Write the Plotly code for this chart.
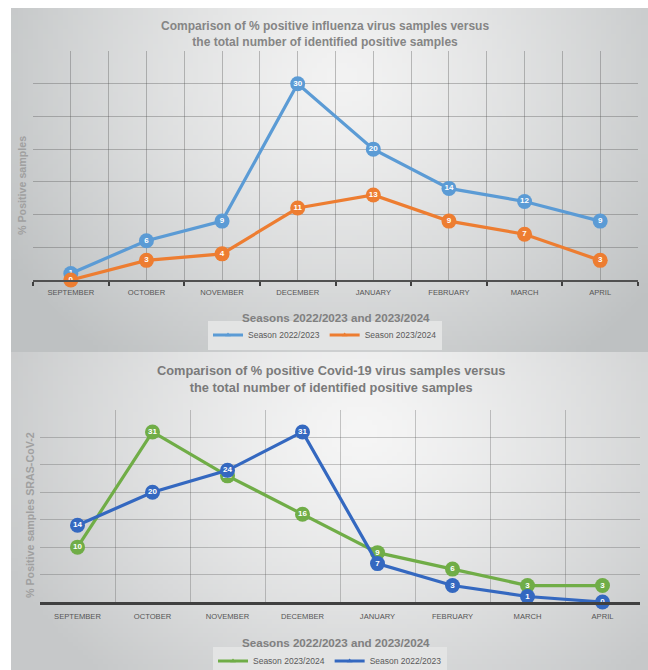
import zlib, struct, base64, math
import plotly.graph_objects as go

months = ["SEPTEMBER", "OCTOBER", "NOVEMBER", "DECEMBER", "JANUARY", "FEBRUARY", "MARCH", "APRIL"]
flu_2223 = [1, 6, 9, 30, 20, 14, 12, 9]
flu_2324 = [0, 3, 4, 11, 13, 9, 7, 3]
cov_2324 = [10, 31, 23, 16, 9, 6, 3, 3]
cov_2223 = [14, 20, 24, 31, 7, 3, 1, 0]

W, H = 648, 670
FONT = "Liberation Sans, Arial"

def px(x):
    return x / W

def py(y):
    return 1 - y / H

def make_png(w, h, fn):
    raw = bytearray()
    for j in range(h):
        raw.append(0)
        for i in range(w):
            raw += bytes(fn(i / (w - 1), j / (h - 1)))
    def chunk(t, d):
        c = struct.pack('>I', len(d)) + t + d
        return c + struct.pack('>I', zlib.crc32(t + d) & 0xffffffff)
    png = (b'\x89PNG\r\n\x1a\n'
           + chunk(b'IHDR', struct.pack('>IIBBBBB', w, h, 8, 2, 0, 0, 0))
           + chunk(b'IDAT', zlib.compress(bytes(raw)))
           + chunk(b'IEND', b''))
    return 'data:image/png;base64,' + base64.b64encode(png).decode()

def grad(cx, cy, rx, ry, light, dark):
    def f(u, v):
        d = math.sqrt(((u - cx) / rx) ** 2 + ((v - cy) / ry) ** 2)
        t = min(d, 1.0) ** 1.3
        return tuple(int(light[k] * (1 - t) + dark[k] * t) for k in range(3))
    return f

img_top = make_png(128, 72, grad(0.52, 0.2, 0.62, 1.05, (243, 243, 243), (190, 193, 194)))
img_bot = make_png(128, 72, grad(0.55, 0.25, 0.62, 1.05, (246, 246, 246), (198, 200, 201)))

xs = list(range(len(months)))
bounds = [i - 0.5 for i in range(len(months) + 1)]

fig = go.Figure()

def add_series(vals, color, xa, ya):
    fig.add_trace(go.Scatter(
        x=xs, y=vals, mode="lines+markers+text", xaxis=xa, yaxis=ya,
        line=dict(color=color, width=3.2),
        marker=dict(size=15, color=color),
        text=[f"<b>{v}</b>" for v in vals], textposition="middle center",
        textfont=dict(color="white", size=8, family=FONT),
        showlegend=False, hoverinfo="skip", cliponaxis=False))

def add_legend(name, color, legend):
    fig.add_trace(go.Scatter(
        x=[None], y=[None], mode="lines+markers", name=name, legend=legend,
        line=dict(color=color, width=3), marker=dict(size=5, symbol="triangle-up", color=color)))

add_series(flu_2223, "#5b9bd5", "x", "y")
add_series(flu_2324, "#ed7d31", "x", "y")
add_series(cov_2324, "#70ad47", "x2", "y2")
add_series(cov_2223, "#3468c0", "x2", "y2")

add_legend("Season 2022/2023", "#5b9bd5", "legend")
add_legend("Season 2023/2024", "#ed7d31", "legend")
add_legend("Season 2023/2024", "#70ad47", "legend2")
add_legend("Season 2022/2023", "#3468c0", "legend2")

tickfont = dict(family=FONT, size=7.6, color="#555555")

fig.update_layout(
    width=W, height=H, margin=dict(l=0, r=0, t=0, b=0, autoexpand=False),
    paper_bgcolor="white", plot_bgcolor="rgba(0,0,0,0)",
    xaxis=dict(domain=[px(33), px(638)], range=[-0.5, 7.5], tickvals=xs, ticktext=months,
               tickfont=tickfont, showgrid=True, gridcolor="rgba(80,80,80,0.35)", gridwidth=1,
               ticks="", showline=True, linecolor="#505050", linewidth=2, zeroline=False,
               ticklabelstandoff=4,
               minor=dict(tickvals=bounds, showgrid=True, gridcolor="rgba(80,80,80,0.35)",
                          ticks="outside", ticklen=4, tickcolor="#404040", tickwidth=1.5),
               anchor="y"),
    yaxis=dict(domain=[py(280), py(51)], range=[0, 35], dtick=5, showticklabels=False,
               showgrid=True, gridcolor="rgba(80,80,80,0.35)", zeroline=False, anchor="x"),
    xaxis2=dict(domain=[px(40), px(640)], range=[-0.5, 7.5], tickvals=xs, ticktext=months,
                tickfont=tickfont, showgrid=False, ticks="", showline=True, linecolor="#404040",
                linewidth=2.5, zeroline=False, ticklabelstandoff=5,
                minor=dict(tickvals=bounds, showgrid=True, gridcolor="rgba(80,80,80,0.3)"),
                anchor="y2"),
    yaxis2=dict(domain=[py(602), py(410)], range=[0, 35], dtick=5, showticklabels=False,
                showgrid=True, gridcolor="rgba(80,80,80,0.3)", zeroline=False, anchor="x2"),
    legend=dict(orientation="h", x=px(325), y=py(335), xanchor="center", yanchor="middle",
                bgcolor="#e3e4e4", font=dict(family=FONT, size=8.5, color="#595959"),
                itemwidth=30, tracegroupgap=0),
    legend2=dict(orientation="h", x=px(330), y=py(661), xanchor="center", yanchor="middle",
                 bgcolor="#e3e4e4", font=dict(family=FONT, size=8.5, color="#595959"),
                 itemwidth=30, tracegroupgap=0),
    images=[
        dict(source=img_top, xref="paper", yref="paper", x=px(11), y=py(8), sizex=px(648) - px(11),
             sizey=py(8) - py(352), sizing="stretch", layer="below", xanchor="left", yanchor="top"),
        dict(source=img_bot, xref="paper", yref="paper", x=px(11), y=py(352), sizex=px(648) - px(11),
             sizey=py(352) - py(670), sizing="stretch", layer="below", xanchor="left", yanchor="top"),
    ],
)

annots = [
    dict(text="<b>Comparison of % positive influenza virus samples versus<br>the total number of identified positive samples</b>",
         x=px(325), y=py(34), size=12, color="#858585"),
    dict(text="<b>Comparison of % positive Covid-19 virus samples versus<br>the total number of identified positive samples</b>",
         x=px(331), y=py(379), size=12.8, color="#7a7a7a"),
    dict(text="<b>Seasons 2022/2023 and 2023/2024</b>", x=px(336), y=py(317), size=11.6, color="#808080"),
    dict(text="<b>Seasons 2022/2023 and 2023/2024</b>", x=px(336), y=py(642), size=11.6, color="#808080"),
]
for a in annots:
    fig.add_annotation(text=a["text"], x=a["x"], y=a["y"], xref="paper", yref="paper",
                       showarrow=False, xanchor="center", yanchor="middle",
                       font=dict(family=FONT, size=a["size"], color=a["color"]))

for t, x, y in [("<b>% Positive samples</b>", 22, 186), ("<b>% Positive samples SRAS-CoV-2</b>", 30, 515)]:
    fig.add_annotation(text=t, x=px(x), y=py(y), xref="paper", yref="paper", showarrow=False,
                       textangle=-90, xanchor="center", yanchor="middle",
                       font=dict(family=FONT, size=10.7, color="#a0a0a0"))

fig.write_html("out.html")
